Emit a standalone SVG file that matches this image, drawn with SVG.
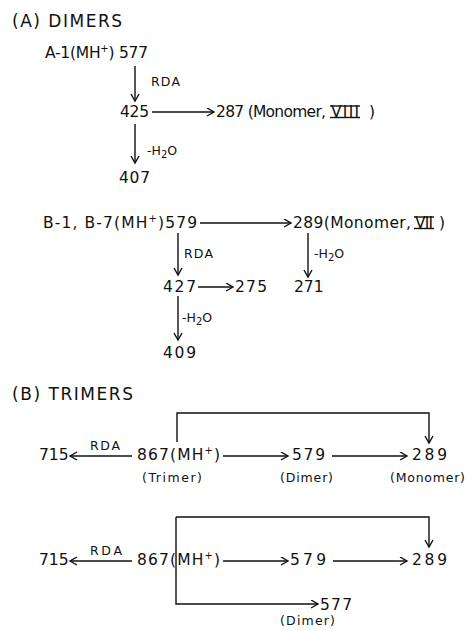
<svg xmlns="http://www.w3.org/2000/svg" width="467" height="631" viewBox="0 0 467 631">
<style>
text{font-family:"DejaVu Sans","Liberation Sans",sans-serif;fill:#111}
.h{font-size:17px}
.t{font-size:15.5px}
.s{font-size:12.5px}
.sub{font-size:10px}
.c{fill:none;stroke:#111;stroke-width:1.4}
.bar{stroke:#111;stroke-width:1.4}
</style>
<defs>
<marker id="ah" markerWidth="10" markerHeight="10" refX="8" refY="4.5" orient="auto" markerUnits="userSpaceOnUse">
<path d="M1,0.5 L8,4.5 L1,8.5" fill="none" stroke="#111" stroke-width="1.4"/>
</marker>
</defs>
<rect width="467" height="631" fill="#fff"/>

<g id="connectors">
<line class="c" x1="135" y1="66" x2="135" y2="101" marker-end="url(#ah)"/>
<line class="c" x1="152" y1="112" x2="214" y2="112" marker-end="url(#ah)"/>
<line class="c" x1="135" y1="124" x2="135" y2="163" marker-end="url(#ah)"/>
<line class="c" x1="200" y1="223" x2="291" y2="223" marker-end="url(#ah)"/>
<line class="c" x1="178" y1="233" x2="178" y2="275" marker-end="url(#ah)"/>
<line class="c" x1="198" y1="287" x2="233" y2="287" marker-end="url(#ah)"/>
<line class="c" x1="308" y1="233" x2="308" y2="277" marker-end="url(#ah)"/>
<line class="c" x1="178" y1="296" x2="178" y2="340" marker-end="url(#ah)"/>
<line class="c" x1="132" y1="456" x2="70" y2="456" marker-end="url(#ah)"/>
<line class="c" x1="223" y1="456" x2="288" y2="456" marker-end="url(#ah)"/>
<line class="c" x1="332" y1="456" x2="407" y2="456" marker-end="url(#ah)"/>
<path class="c" d="M177,442 V413 H429 V443" marker-end="url(#ah)"/>
<line class="c" x1="132" y1="561" x2="70" y2="561" marker-end="url(#ah)"/>
<line class="c" x1="223" y1="561" x2="288" y2="561" marker-end="url(#ah)"/>
<line class="c" x1="333" y1="561" x2="407" y2="561" marker-end="url(#ah)"/>
<path class="c" d="M176,517 H429 V547" marker-end="url(#ah)"/>
<path class="c" d="M176,517 V604 H318" marker-end="url(#ah)"/>
</g>

<g id="edge-labels">
<text class="s" x="151" y="86" textLength="29">RDA</text>
<text class="s" x="147" y="155">-H<tspan class="sub" dy="3">2</tspan><tspan dy="-3">O</tspan></text>
<text class="s" x="184" y="258" textLength="29">RDA</text>
<text class="s" x="314" y="258">-H<tspan class="sub" dy="3">2</tspan><tspan dy="-3">O</tspan></text>
<text class="s" x="182" y="322">-H<tspan class="sub" dy="3">2</tspan><tspan dy="-3">O</tspan></text>
<text class="s" x="90" y="450" textLength="30">RDA</text>
<text class="s" x="90" y="555" textLength="32">RDA</text>
</g>

<g id="title-a"><text class="h" x="12" y="27" textLength="110">(A) DIMERS</text></g>
<g id="n-a1-577"><text class="t" x="45" y="58" textLength="103">A-1(MH<tspan class="sub" dy="-6">+</tspan><tspan dy="6">) 577</tspan></text></g>
<g id="n-425"><text class="t" x="120" y="117" textLength="29">425</text></g>
<g id="n-287">
<text class="t" x="216" y="117" textLength="110">287 (Monomer,</text>
<text class="t" x="331" y="117" textLength="28">VIII</text>
<line class="bar" x1="330" y1="106" x2="360" y2="106"/>
<line class="bar" x1="330" y1="117.5" x2="360" y2="117.5"/>
<text class="t" x="369" y="117">)</text>
</g>
<g id="n-407"><text class="t" x="119" y="183" textLength="31">407</text></g>

<g id="n-b1-579"><text class="t" x="43" y="228" textLength="154">B-1, B-7(MH<tspan class="sub" dy="-6">+</tspan><tspan dy="6">)579</tspan></text></g>
<g id="n-289a">
<text class="t" x="293" y="228" textLength="118">289(Monomer,</text>
<text class="t" x="415" y="228" textLength="18">VII</text>
<line class="bar" x1="414" y1="217" x2="434" y2="217"/>
<line class="bar" x1="414" y1="228.5" x2="434" y2="228.5"/>
<text class="t" x="439" y="228">)</text>
</g>
<g id="n-427"><text class="t" x="163" y="292" textLength="33">427</text></g>
<g id="n-275"><text class="t" x="235" y="292" textLength="32">275</text></g>
<g id="n-271"><text class="t" x="294" y="292">271</text></g>
<g id="n-409"><text class="t" x="163" y="358" textLength="33">409</text></g>

<g id="title-b"><text class="h" x="12" y="400" textLength="121">(B) TRIMERS</text></g>
<g id="t1-715"><text class="t" x="39" y="460">715</text></g>
<g id="t1-867">
<text class="t" x="137" y="460" textLength="83">867(MH<tspan class="sub" dy="-6">+</tspan><tspan dy="6">)</tspan></text>
<text class="s" x="142" y="482" textLength="60">(Trimer)</text>
</g>
<g id="t1-579">
<text class="t" x="292" y="460" textLength="33">579</text>
<text class="s" x="280" y="482" textLength="53">(Dimer)</text>
</g>
<g id="t1-289">
<text class="t" x="412" y="460" textLength="35">289</text>
<text class="s" x="390" y="482" textLength="75">(Monomer)</text>
</g>

<g id="t2-715"><text class="t" x="39" y="565">715</text></g>
<g id="t2-867"><text class="t" x="137" y="565" textLength="83">867(MH<tspan class="sub" dy="-6">+</tspan><tspan dy="6">)</tspan></text></g>
<g id="t2-579"><text class="t" x="290" y="565" textLength="36">579</text></g>
<g id="t2-289"><text class="t" x="412" y="565" textLength="35">289</text></g>
<g id="t2-577">
<text class="t" x="320" y="610" textLength="32">577</text>
<text class="s" x="280" y="625" textLength="55">(Dimer)</text>
</g>
</svg>
